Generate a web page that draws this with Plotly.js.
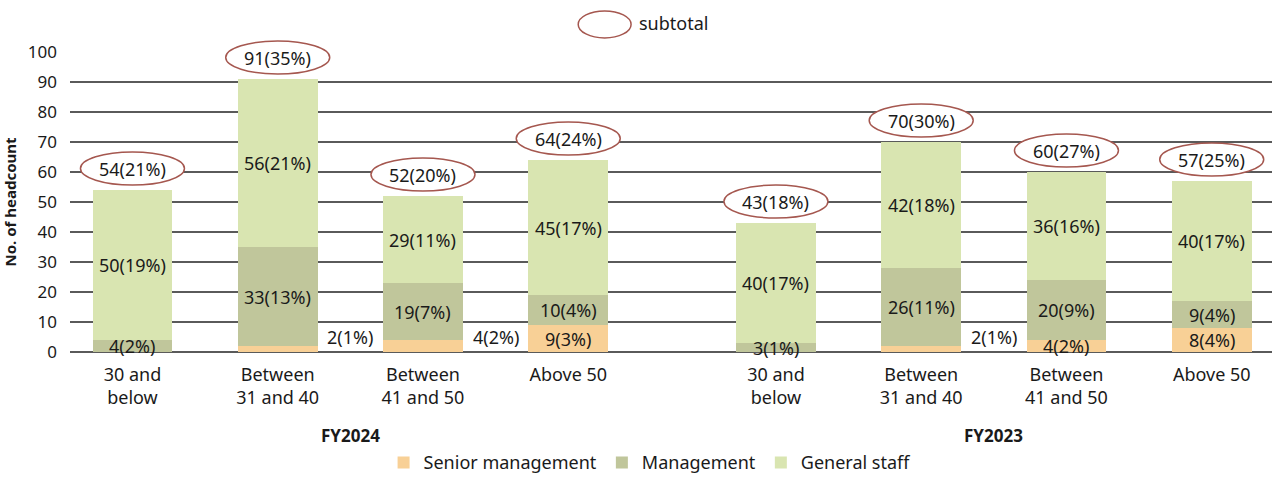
<!DOCTYPE html>
<html>
<head>
<meta charset="utf-8">
<script src="https://cdn.plot.ly/plotly-3.0.1.min.js"></script>
<style>html,body{margin:0;padding:0;background:#fff;}#chart{width:1274px;height:477px;}</style>
</head>
<body>
<div id="chart"></div>
<script>
// ---- data ----
const groups = ['FY2024', 'FY2023'];
const ageBands = ['30 and<br>below', 'Between<br>31 and 40', 'Between<br>41 and 50', 'Above 50'];
const seriesNames = ['Senior management', 'Management', 'General staff'];
const senior  = [0, 2, 4, 9,   0, 2, 4, 8];
const mgmt    = [4, 33, 19, 10, 3, 26, 20, 9];
const general = [50, 56, 29, 45, 40, 42, 36, 40];
const seniorPct   = [0, 1, 2, 3,  0, 1, 2, 4];
const mgmtPct     = [2, 13, 7, 4, 1, 11, 9, 4];
const generalPct  = [19, 21, 11, 17, 17, 18, 16, 17];
const subtotalPct = [21, 35, 20, 24, 18, 30, 27, 25];
const seniorLabelOutside = [false, true, true, false, false, true, false, false];

// ---- layout helpers ----
const GAP = 0.43;
const XRANGE = [-0.43, 7.845];
const YRANGE = [0, 100];
const FONT = 'Noto Sans, Roboto, sans-serif';
const TXT = '#1a1a1a';
const colors = ['#f8d096', '#c0c69b', '#d9e5b1'];
const n = senior.length;
const pos = [], tickText = [];
for (let i = 0; i < n; i++) {
  const g = Math.floor(i / ageBands.length), j = i % ageBands.length;
  pos.push(g * (ageBands.length + GAP) + j);
  tickText.push(ageBands[j]);
}
const totals = senior.map((v, i) => v + mgmt[i] + general[i]);
const toPaperX = v => (v - XRANGE[0]) / (XRANGE[1] - XRANGE[0]);
const toPaperY = v => (v - YRANGE[0]) / (YRANGE[1] - YRANGE[0]);

const series = [senior, mgmt, general];
const pcts = [seniorPct, mgmtPct, generalPct];
const traces = series.map((vals, k) => ({
  type: 'bar', x: pos, y: vals, name: seriesNames[k], width: 0.55,
  marker: {color: colors[k], line: {width: 0}}, hoverinfo: 'skip'
}));

const LBL = {family: FONT, size: 18, color: TXT};
const annotations = [];
const shapes = [];
for (let i = 0; i < n; i++) {
  let base = 0;
  for (let k = 0; k < 3; k++) {
    const v = series[k][i];
    if (v > 0) {
      const label = v + '(' + pcts[k][i] + '%)';
      if (k === 0 && seniorLabelOutside[i]) {
        annotations.push({x: pos[i] + 0.5, y: 0, yshift: 15, text: label, showarrow: false, font: LBL});
      } else {
        annotations.push({x: pos[i], y: base + v / 2, text: label, showarrow: false, font: LBL});
      }
    }
    base += v;
  }
  // subtotal ellipse + label (paper refs so the ellipse is not clipped at the top)
  shapes.push({type: 'circle', xref: 'paper', yref: 'paper', xsizemode: 'pixel', ysizemode: 'pixel',
    xanchor: toPaperX(pos[i]), yanchor: toPaperY(totals[i]), x0: -52, x1: 52, y0: 5, y1: 38,
    fillcolor: '#ffffff', line: {color: '#a5574f', width: 1.5}, layer: 'above'});
  annotations.push({x: pos[i], y: totals[i], yshift: 21, text: totals[i] + '(' + subtotalPct[i] + '%)',
    showarrow: false, font: LBL});
}
// group labels
groups.forEach((g, gi) => {
  const p = pos.slice(gi * ageBands.length, (gi + 1) * ageBands.length);
  const cx = p.reduce((a, b) => a + b, 0) / p.length;
  annotations.push({x: cx, xref: 'x', y: 0, yref: 'paper', yanchor: 'middle', yshift: -83,
    text: '<b>' + g + '</b>', showarrow: false, font: {family: FONT, size: 17, color: TXT}});
});
// subtotal key at top
shapes.push({type: 'circle', xref: 'paper', yref: 'paper', x0: 0.4228, x1: 0.4668, y0: 1.047, y1: 1.137,
  fillcolor: '#ffffff', line: {color: '#a5574f', width: 1.5}});
annotations.push({xref: 'paper', yref: 'paper', x: 0.4718, y: 1.097, xanchor: 'left', yanchor: 'middle',
  text: 'subtotal', showarrow: false, font: {family: FONT, size: 18, color: TXT}});

const layout = {
  width: 1274, height: 477,
  margin: {l: 70, r: 2, t: 52, b: 125},
  paper_bgcolor: '#ffffff', plot_bgcolor: '#ffffff',
  barmode: 'stack',
  font: {family: FONT, size: 17, color: TXT},
  showlegend: true,
  legend: {orientation: 'h', x: 0.4826, xanchor: 'center', yref: 'container', y: 0.03, yanchor: 'middle',
    font: {family: FONT, size: 18, color: TXT}, traceorder: 'normal', itemclick: false},
  xaxis: {type: 'linear', range: XRANGE, tickmode: 'array', tickvals: pos, ticktext: tickText,
    showgrid: false, zeroline: false, showline: false, ticks: '', fixedrange: true,
    ticklabelstandoff: 10, automargin: false,
    tickfont: {family: FONT, size: 18, color: TXT}},
  yaxis: {range: YRANGE, dtick: 10, showgrid: true, gridcolor: '#5a5a5a', gridwidth: 1.3,
    zeroline: true, zerolinecolor: '#5a5a5a', zerolinewidth: 1.3, showline: false, ticks: '',
    ticklabelstandoff: 12, fixedrange: true, automargin: false,
    tickfont: {family: FONT, size: 17, color: TXT},
    title: {text: '<b>No. of headcount</b>', standoff: 14, font: {family: FONT, size: 15, color: TXT}}},
  shapes: shapes,
  annotations: annotations
};
Plotly.newPlot('chart', traces, layout, {displayModeBar: false, staticPlot: true});
</script>
</body>
</html>
